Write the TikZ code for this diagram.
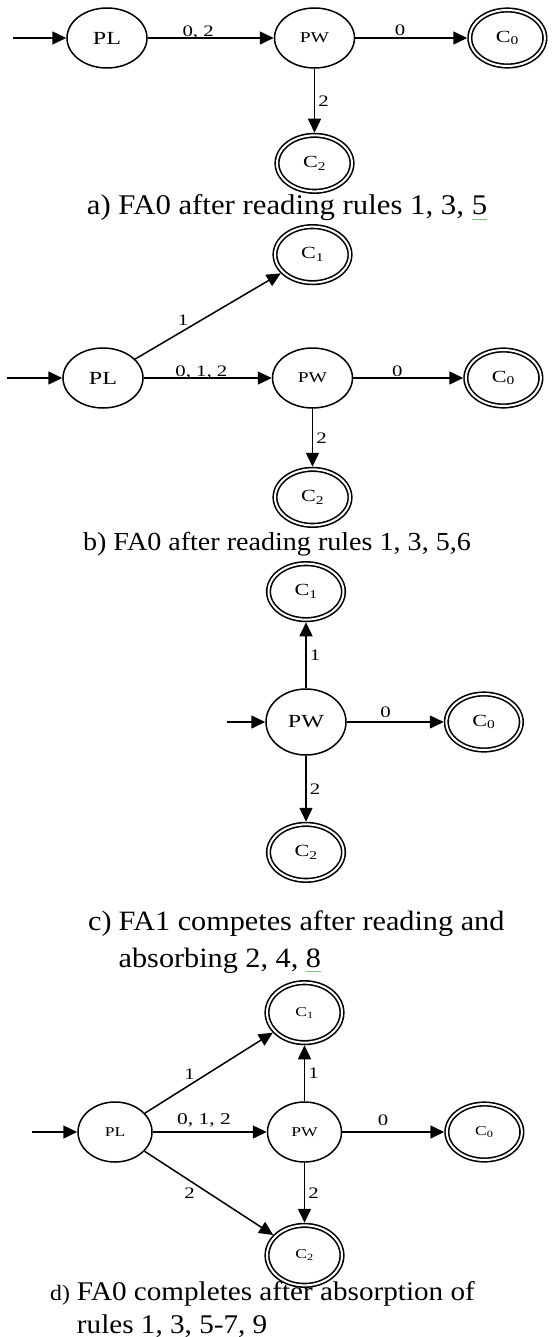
\documentclass[tikz,border=0pt]{standalone}
\usepackage{fontspec}
\setmainfont{Liberation Serif}
\newfontfamily\diagfont[FakeStretch=1.3]{Liberation Serif}
\newfontfamily\capfont[FakeStretch=1.08]{Liberation Serif}
\usepackage{tikz}
\usetikzlibrary{positioning, shapes.geometric, arrows.meta, calc}
\definecolor{wordgreen}{RGB}{120,190,120}
\newcommand{\greenmark}[1]{\setbox0\hbox{#1}\rlap{\color{wordgreen}\rule[-5pt]{\wd0}{0.6pt}}#1}

\begin{document}
\begin{tikzpicture}[
    x=1pt, y=-1pt,
    state/.style={draw=black, line width=1.5pt, ellipse, inner sep=0pt, minimum width=80pt, minimum height=60pt, font=\diagfont\fontsize{17}{19}\selectfont},
    accept/.style={draw=black, double, line width=1.6pt, double distance=2pt, ellipse, inner sep=0pt, outer sep=2.6pt, minimum width=75pt, minimum height=56pt, font=\diagfont\fontsize{17}{19}\selectfont},
    bigtext/.style={font=\diagfont\fontsize{18.5}{20}\selectfont},
    midtext/.style={font=\diagfont\fontsize{15}{17}\selectfont},
    smalltext/.style={font=\diagfont\fontsize{13.5}{15}\selectfont},
    edge/.style={line width=1.5pt, -{Triangle[length=14pt, width=13pt]}},
    elabel/.style={font=\diagfont\fontsize{16}{18}\selectfont, inner sep=1pt},
    caption/.style={inner sep=0pt}
]
\useasboundingbox (0,0) rectangle (551,1337);

% Teil a) -- Knoten
\node[state, bigtext] (pla) at (107,38) {PL};
\node[state, midtext, right=126pt of pla] (pwa) {PW};
\node[accept, right=112pt of pwa] (c0a) {C\textsubscript{0}};
\node[accept, below=64pt of pwa] (c2a) {C\textsubscript{2}};
\coordinate[left=53pt of pla] (ina);

% Teil a) -- Kanten
\draw[edge] (ina) -- (pla);
\draw[edge] (pla) -- (pwa) node[elabel, pos=0.4, above=-3pt] {0, 2};
\draw[edge] (pwa) -- (c0a) node[elabel, pos=0.4, above=1pt] {0};
\draw[edge] (pwa) -- (c2a) node[elabel, midway, right=2pt] {2};
\node[caption, anchor=base, font=\capfont\fontsize{28.5}{33}\selectfont] (capa) at (287,215) {a) FA0 after reading rules 1, 3, \greenmark{5}};

% Teil b) -- Knoten
\node[state, bigtext] (plb) at (103,378) {PL};
\node[state, midtext, right=128pt of plb] (pwb) {PW};
\node[accept, right=110pt of pwb] (c0b) {C\textsubscript{0}};
\node[accept, above=62pt of pwb] (c1b) {C\textsubscript{1}};
\node[accept, below=58pt of pwb] (c2b) {C\textsubscript{2}};
\coordinate[left=55pt of plb] (inb);

% Teil b) -- Kanten
\draw[edge] (inb) -- (plb);
\draw[edge] (plb) -- (c1b) node[elabel, pos=0.33, above=4pt] {1};
\draw[edge] (plb) -- (pwb) node[elabel, pos=0.45, above=-3pt] {0, 1, 2};
\draw[edge] (pwb) -- (c0b) node[elabel, pos=0.4, above=0pt] {0};
\draw[edge] (pwb) -- (c2b) node[elabel, midway, right=2pt] {2};
\node[caption, anchor=base, font=\capfont\fontsize{26}{31}\selectfont] (capb) at (277,550) {b) FA0 after reading rules 1, 3, 5,6};

% Teil c) -- Knoten
\node[state, bigtext, minimum height=66pt] (pwc) at (306,722) {PW};
\node[accept, above=66pt of pwc] (c1c) {C\textsubscript{1}};
\node[accept, right=97pt of pwc] (c0c) {C\textsubscript{0}};
\node[accept, below=66pt of pwc] (c2c) {C\textsubscript{2}};
\coordinate[left=38pt of pwc] (inc);

% Teil c) -- Kanten
\draw[edge] (inc) -- (pwc);
\draw[edge] (pwc) -- (c1c) node[elabel, midway, right=2pt] {1};
\draw[edge] (pwc) -- (c0c) node[elabel, pos=0.4, above=3pt] {0};
\draw[edge] (pwc) -- (c2c) node[elabel, midway, right=2pt] {2};
\node[caption, anchor=base west, font=\capfont\fontsize{28}{37}\selectfont] (capc) at (88,930)
    {\begin{tabular}[t]{@{}l@{\hspace{7pt}}l@{}}c) & FA1 competes after reading and\\ & absorbing 2, 4, \greenmark{8}\end{tabular}};

% Teil d) -- Knoten
\node[state, smalltext, minimum width=74pt] (pld) at (115,1132) {PL};
\node[state, smalltext, minimum width=74pt, right=114pt of pld] (pwd) {PW};
\node[accept, smalltext, right=102pt of pwd] (c0d) {C\textsubscript{0}};
\node[accept, smalltext, minimum height=60pt, above=56pt of pwd] (c1d) {C\textsubscript{1}};
\node[accept, smalltext, minimum height=60pt, below=60pt of pwd] (c2d) {C\textsubscript{2}};
\coordinate[left=45pt of pld] (ind);

% Teil d) -- Kanten
\draw[edge] (ind) -- (pld);
\draw[edge] (pld) -- (c1d) node[elabel, pos=0.35, above=4pt] {1};
\draw[edge] (pld) -- (pwd) node[elabel, font=\diagfont\fontsize{16.5}{18}\selectfont, pos=0.45, above=3pt] {0, 1, 2};
\draw[edge] (pld) -- (c2d) node[elabel, pos=0.35, below=6pt] {2};
\draw[edge] (pwd) -- (c1d) node[elabel, midway, right=2pt] {1};
\draw[edge] (pwd) -- (c0d) node[elabel, pos=0.4, above=5pt] {0};
\draw[edge] (pwd) -- (c2d) node[elabel, midway, right=2pt] {2};
\node[caption, anchor=base west, font=\capfont\fontsize{27}{33}\selectfont] (capd) at (50,1300)
    {\begin{tabular}[t]{@{}l@{\hspace{7pt}}l@{}}{\fontsize{22}{33}\selectfont d)} & FA0 completes after absorption of\\ & rules 1, 3, 5-7, 9\end{tabular}};

\end{tikzpicture}
\end{document}
